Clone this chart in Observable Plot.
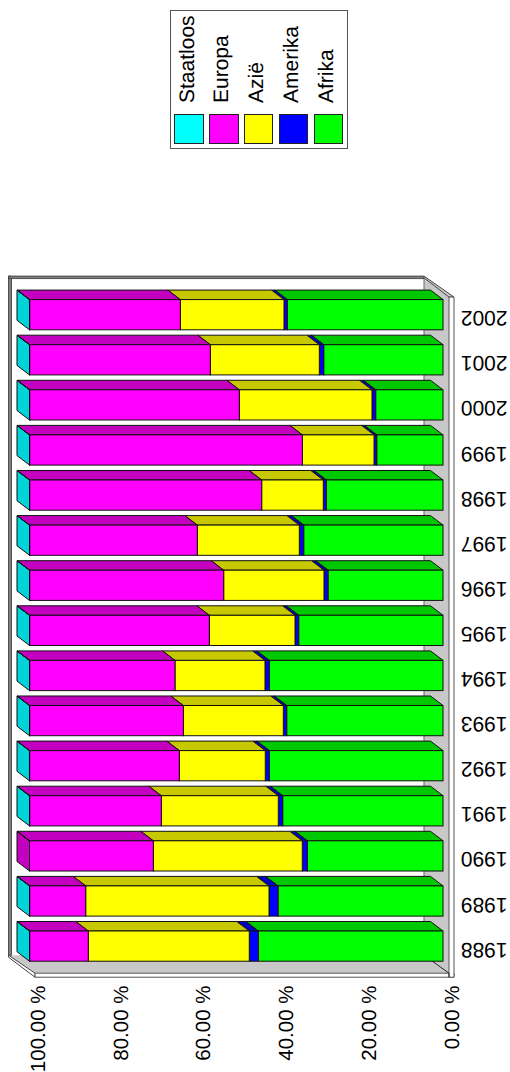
<!DOCTYPE html>
<html>
<head>
<meta charset="utf-8">
<script src="https://cdn.jsdelivr.net/npm/d3@7"></script>
<script src="https://cdn.jsdelivr.net/npm/@observablehq/plot@0.6"></script>
<style>
html,body{margin:0;padding:0;background:#fff;width:510px;height:1072px;overflow:hidden;font-family:"Liberation Sans",Arial,sans-serif}
#legend{position:relative;height:160px;width:510px}
#legend .box{position:absolute;left:169.5px;top:9.5px;width:178px;height:139px;border:1px solid #555;box-sizing:border-box;background:#fff}
#legend .sw{position:absolute;top:103.8px;width:29.5px;height:29.5px;box-sizing:border-box;border:1px solid #222}
#legend .lb{position:absolute;top:92px;font-size:21px;line-height:20px;height:20px;white-space:nowrap;color:#000;transform-origin:0 0;transform:rotate(-90deg);text-rendering:geometricPrecision}
svg{display:block}
svg text{text-rendering:geometricPrecision;font-variant-numeric:normal!important}
</style>
</head>
<body>
<div id="legend"></div>
<div id="chart"></div>
<script>
const years = [2002,2001,2000,1999,1998,1997,1996,1995,1994,1993,1992,1991,1990,1989,1988];
const seriesNames = ["Afrika","Amerika","Azië","Europa","Staatloos"];
const legendOrder = ["Staatloos","Europa","Azië","Amerika","Afrika"];
const colors = ["#00ff00","#0000ff","#ffff00","#ff00ff","#00ffff"];
const darkColors = ["#00c800","#0000c8","#c8c800","#c400c0","#00d4d8"];
const afrika    = [37.65,28.85,16.28,16.03,28.22,33.69,27.81,34.90,42.01,37.80,42.01,38.77,32.82,39.90,44.67];
const amerika   = [0.80,1.06,0.89,0.65,0.73,1.06,0.97,0.89,1.04,0.82,0.97,1.06,1.21,2.18,2.18];
const azie      = [25.08,26.36,32.09,17.34,14.90,24.67,24.26,20.73,21.77,24.18,20.80,28.30,36.03,44.33,38.94];
const europa    = [36.44,43.70,50.71,65.95,56.12,40.55,46.93,43.45,35.15,37.17,36.20,31.84,29.94,13.56,14.18];
const staatloos = [0.03,0.03,0.03,0.03,0.03,0.03,0.03,0.03,0.03,0.03,0.03,0.03,0,0.03,0.03];
const valueTicks = [0,20,40,60,80,100];

const columns = [afrika,amerika,azie,europa,staatloos];
const table = years.flatMap((year,i)=>seriesNames.map((series,s)=>({year,series,value:columns[s][i],s})));
const leftmost = new Map(years.map((year,i)=>[year, columns.map(c=>c[i]>0).lastIndexOf(true)]));

// depth of the pseudo 3D extrusion
const DX = 12.5, DY = 9.5;
const SVGNS = "http://www.w3.org/2000/svg";

function extrude(kind){
  return function(index, scales, values, dims, ctx, next){
    const g = next(index, scales, values, dims, ctx);
    g.querySelectorAll("rect").forEach(r=>{
      const x=+r.getAttribute("x"), y=+r.getAttribute("y"), w=+r.getAttribute("width"), h=+r.getAttribute("height");
      const pts = kind==="top"
        ? [[x,y],[x+w,y],[x+w-DX,y-DY],[x-DX,y-DY]]
        : [[x,y],[x-DX,y-DY],[x-DX,y+h-DY],[x,y+h]];
      const p = document.createElementNS(SVGNS,"polygon");
      p.setAttribute("points",pts.map(d=>d.join(",")).join(" "));
      p.setAttribute("fill",r.getAttribute("fill"));
      r.replaceWith(p);
    });
    return g;
  };
}

function poly(g,pts,fill,stroke,sw){
  const p = document.createElementNS(SVGNS,"polygon");
  p.setAttribute("points",pts.map(d=>d.join(",")).join(" "));
  p.setAttribute("fill",fill);
  p.setAttribute("stroke",stroke||"none");
  if(sw) p.setAttribute("stroke-width",sw);
  g.appendChild(p);
}
function walls(index,{x,y}){
  const g = document.createElementNS(SVGNS,"g");
  const x0=x(0), x100=x(100), top=y(years[0]), bot=y(years[years.length-1])+y.bandwidth();
  const backL=x100-21, backR=x0-19, wallT=top-23.5, backB=bot-6, frontB=bot+12, frontL=x100+5.5, frontR=x0+6;
  // floor and end wall
  poly(g,[[backR,wallT+2],[frontR,wallT+21],[frontR,frontB],[backR,backB]],"#c8c8c8","none");
  poly(g,[[backL,backB],[frontL,frontB],[frontR,frontB],[backR,backB]],"#c8c8c8","none");
  // back wall slab edges
  poly(g,[[backL,wallT],[backL+3,wallT],[backL+3,backB],[backL,backB]],"#808080","#333",0.8);
  poly(g,[[backL,wallT],[backR,wallT],[backR,wallT+2.5],[backL,wallT+2.5]],"#808080","#333",0.8);
  // front floor slab
  poly(g,[[backL,backB],[frontL,frontB],[frontL,frontB+4],[backL,backB+2]],"#fff","#444",1);
  poly(g,[[frontL,frontB],[frontR+5,frontB],[frontR+5,frontB+4],[frontL,frontB+4]],"#fff","#555",1);
  // end wall slab
  poly(g,[[backR,wallT],[frontR+5,wallT+21],[frontR,wallT+21],[backR-1,wallT+1]],"#c8c8c8","#444",1);
  poly(g,[[frontR,wallT+21],[frontR+5,wallT+21],[frontR+5,frontB+4],[frontR,frontB+4]],"#fff","#555",1);
  // back-wall lines
  const lines=[[backR,wallT,backR,backB,"#666"],[backR,backB,frontR,frontB,"#222"],[frontR,frontB,frontR,frontB+4,"#222"]];
  lines.forEach(([a,b,c,d,s])=>{
    const l=document.createElementNS(SVGNS,"line");
    l.setAttribute("x1",a);l.setAttribute("y1",b);l.setAttribute("x2",c);l.setAttribute("y2",d);
    l.setAttribute("stroke",s);g.appendChild(l);
  });
  return g;
}

const stack = {x:"value", y:"year", order:seriesNames, z:"series"};

const chart = Plot.plot({
  width:510, height:912,
  marginTop:0, marginLeft:0, marginRight:67, marginBottom:96,
  style:{fontFamily:"'Liberation Sans',Arial,sans-serif",background:"#fff",color:"#000"},
  x:{domain:[0,100], range:[443,29.5]},
  y:{domain:years, range:[124.7,816.1], padding:0.33, round:false},
  color:{domain:seriesNames, range:colors},
  marks:[
    walls,
    // side faces
    Plot.barX(table.filter(d=>d.s===leftmost.get(d.year)), {
      x1:100, x2:99, y:"year",
      fill:{value:d=>darkColors[d.s],scale:null}, stroke:"#111", strokeWidth:1, render:extrude("side")
    }),
    // top faces
    Plot.barX(table, Plot.stackX({...stack,
      fill:{value:d=>darkColors[d.s],scale:null}, stroke:"#111", strokeWidth:1, render:extrude("top")
    })),
    // front faces
    Plot.barX(table, Plot.stackX({...stack, fill:"series", stroke:"#111", strokeWidth:1})),
    Plot.axisX({anchor:"bottom", ticks:valueTicks, tickFormat:d=>d.toFixed(2)+" %", tickSize:0, tickPadding:9,
      tickRotate:-90, textAnchor:"end", dx:8.5, fontSize:20.5, label:null}),
    Plot.axisY({anchor:"right", tickSize:0, tickPadding:64, tickRotate:180, textAnchor:"start", dy:11,
      fontSize:21, tickFormat:d=>String(d), label:null})
  ]
});
document.getElementById("chart").appendChild(chart);

// legend
const legend = document.getElementById("legend");
const box = document.createElement("div"); box.className="box"; legend.appendChild(box);
legendOrder.forEach((name,i)=>{
  const c = colors[seriesNames.indexOf(name)];
  const sw = document.createElement("div"); sw.className="sw";
  sw.style.left=(3.8+i*34.8)+"px"; sw.style.background=c; box.appendChild(sw);
  const lb = document.createElement("div"); lb.className="lb"; lb.textContent=name;
  lb.style.left=(7+i*34.8)+"px"; box.appendChild(lb);
});
</script>
</body>
</html>
